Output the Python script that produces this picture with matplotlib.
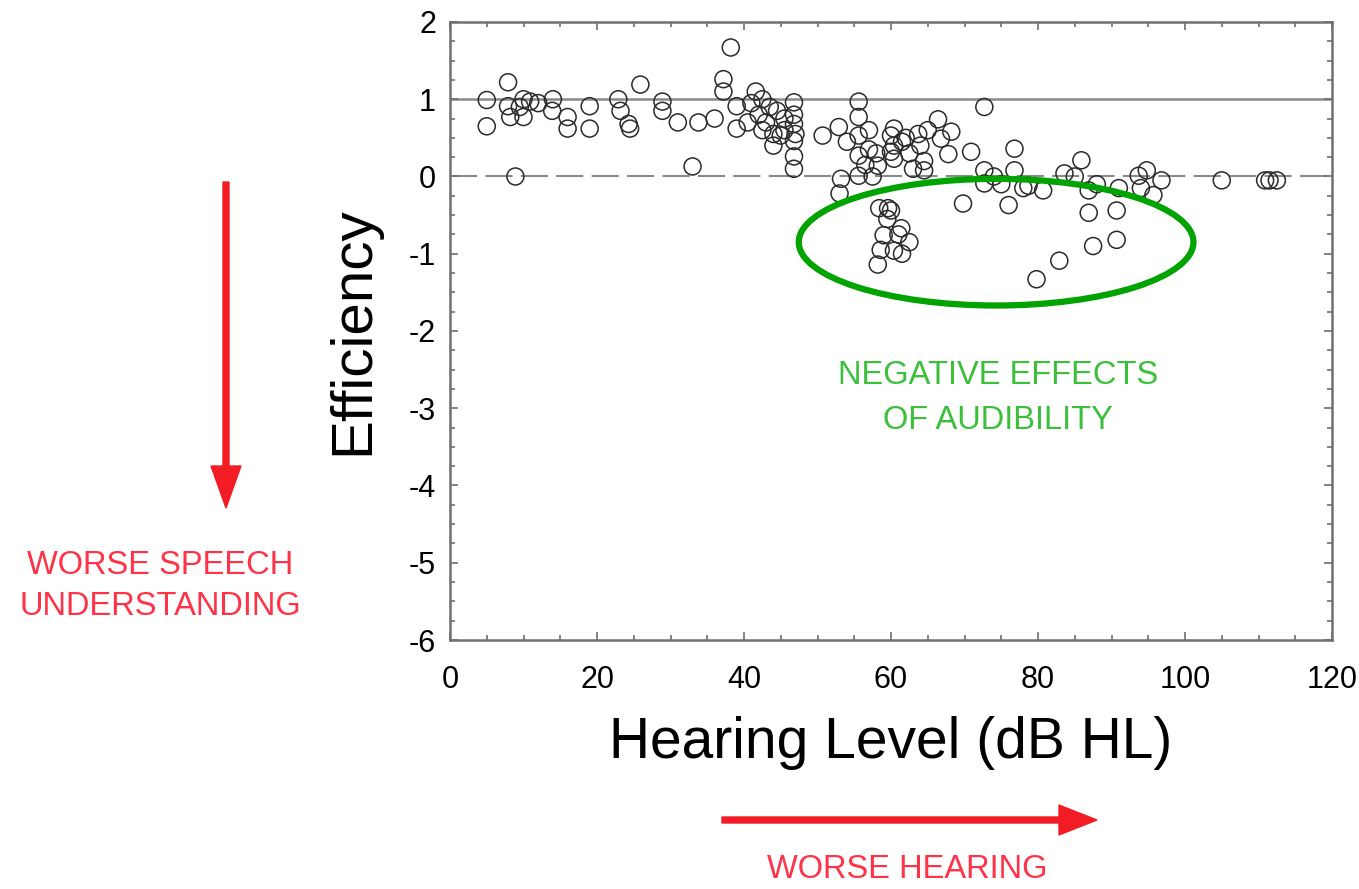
import matplotlib
matplotlib.use("Agg")
import matplotlib.pyplot as plt
from matplotlib.patches import Ellipse, FancyArrow
from matplotlib.transforms import IdentityTransform
from matplotlib.ticker import MultipleLocator

plt.rcParams["axes.unicode_minus"] = False

# ---- data ----
hearing_level = [
    5, 5, 7.9, 7.9, 8.9, 10, 8.2, 10, 10.9, 14, 13.9, 16, 16, 19, 19, 9.5, 12,
    22.9, 23.2, 24.3, 24.5, 25.9, 28.9, 28.9, 31, 33.8, 33, 37.2, 37.2, 38.2, 39, 39, 36,
    41.6, 41, 42, 43, 44, 44, 45, 43.5, 45.5, 46.8, 46.8, 46.8, 46.8, 46.8, 46.8, 40.5, 42.5,
    42.5, 44.5, 45.5, 47,
    50.7, 52.9, 53.2, 53, 55.6, 55.6, 55.6, 55.6, 55.6, 54, 57, 58.2, 57.5, 58.4, 60, 59,
    58.6, 58.2, 60, 60, 59.6, 61.4, 60.4, 60.4, 60.4, 60.4, 57,
    56.5, 58, 61.5, 62.5, 63, 59.5, 61.5,
    62, 63.7, 64, 64.5, 64.5, 62.5, 61, 66.4, 68.2, 66.8, 67.8, 65, 70.9, 72.7, 72.7, 72.7,
    69.8, 76.8, 76.8, 76, 78, 78.7, 74, 75,
    79.8, 80.7, 82.9, 83.6, 85.9, 86.9, 86.9, 87.5, 90.7, 90.7, 91, 93.7, 94.8, 96.8, 94,
    95.7, 105, 110.9, 111.5, 112.5, 85, 88,
]
efficiency = [
    0.99, 0.65, 1.22, 0.91, 0.0, 1.0, 0.77, 0.77, 0.97, 1.0, 0.85, 0.77, 0.62, 0.91, 0.62, 0.9, 0.95,
    1.0, 0.85, 0.68, 0.62, 1.19, 0.97, 0.85, 0.7, 0.7, 0.13, 1.26, 1.1, 1.67, 0.91, 0.62, 0.75,
    1.1, 0.95, 0.8, 0.7, 0.55, 0.4, 0.53, 0.9, 0.75, 0.96, 0.8, 0.68, 0.46, 0.26, 0.1, 0.7, 0.6,
    1.0, 0.85, 0.6, 0.55,
    0.53, 0.64, -0.03, -0.22, 0.97, 0.77, 0.53, 0.27, 0.01, 0.45, 0.35, 0.14, 0.0, -0.41, -0.44, -0.76,
    -0.95, -1.14, 0.53, 0.32, -0.41, -0.67, -0.96, 0.62, 0.4, 0.23, 0.6,
    0.15, 0.3, 0.45, 0.3, 0.1, -0.55, -1.0,
    0.5, 0.55, 0.4, 0.2, 0.08, -0.85, -0.75, 0.74, 0.58, 0.49, 0.29, 0.6, 0.32, 0.9, 0.08, -0.09,
    -0.35, 0.36, 0.08, -0.37, -0.15, -0.12, 0.0, -0.1,
    -1.33, -0.18, -1.09, 0.04, 0.21, -0.18, -0.47, -0.9, -0.44, -0.82, -0.15, 0.01, 0.08, -0.05, -0.15,
    -0.24, -0.05, -0.05, -0.05, -0.05, 0.0, -0.1,
]
x_ticks = [0, 20, 40, 60, 80, 100, 120]
y_ticks = [2, 1, 0, -1, -2, -3, -4, -5, -6]
ref_solid = 1
ref_dashed = 0

# highlighted region (data coords)
ellipse_center = (74.3, -0.85)
ellipse_width = 53.7
ellipse_height = 1.64

W, H = 1359, 889
fig = plt.figure(figsize=(W / 100, H / 100), dpi=100)
ax = fig.add_axes([450 / W, 1 - 640 / H, 882 / W, 618 / H])

spine_col = "#707070"
ax.axhline(ref_solid, color="#8a8a8a", lw=1.8, zorder=1)
ax.axhline(ref_dashed, color="#8a8a8a", lw=1.5, dashes=(13, 4), zorder=1)

ax.scatter(hearing_level, efficiency, s=150, facecolors="none",
           edgecolors="#2a2a2a", linewidths=1.1, zorder=3)

ax.set_xlim(0, 120)
ax.set_ylim(-6, 2)
ax.set_xticks(x_ticks)
ax.set_yticks(y_ticks)
ax.xaxis.set_minor_locator(MultipleLocator(5))
ax.yaxis.set_minor_locator(MultipleLocator(0.25))
for s in ax.spines.values():
    s.set_color(spine_col)
    s.set_linewidth(1.8)
ax.tick_params(which="both", direction="in", top=True, right=True,
               color=spine_col, width=1.2)
ax.tick_params(which="major", length=6, labelsize=22)
ax.tick_params(which="minor", length=3.5)
ax.tick_params(axis="x", which="major", pad=18)
ax.tick_params(axis="y", which="major", pad=10)
for lab in ax.get_xticklabels() + ax.get_yticklabels():
    lab.set_family("Liberation Sans")

ax.set_xlabel("Hearing Level (dB HL)", fontsize=41, family="Liberation Sans")
ax.xaxis.set_label_coords(0.5, -0.123)
ax.set_ylabel("Efficiency", fontsize=42, family="Liberation Sans")
ax.yaxis.set_label_coords(-0.079, 0.5)

green = "#00a300"
ax.add_patch(Ellipse(ellipse_center, ellipse_width, ellipse_height,
                     fill=False, edgecolor=green, lw=4.5, zorder=4, clip_on=False))

txt_font = "Liberation Sans"
fig.text(998 / W, 1 - 398 / H, "NEGATIVE EFFECTS\nOF AUDIBILITY", color="#3cc03c",
         fontsize=23.5, family=txt_font, ha="center", va="center", linespacing=1.6)

red_txt = "#ff3347"
fig.text(160 / W, 1 - 586 / H, "WORSE SPEECH\nUNDERSTANDING", color=red_txt,
         fontsize=23.5, family=txt_font, ha="center", va="center", linespacing=1.45)
fig.text(907 / W, 1 - 870 / H, "WORSE HEARING", color=red_txt,
         fontsize=23.5, family=txt_font, ha="center", va="center")

red = "#f21c24"
# arrows drawn in display pixels (origin bottom-left)
fig.add_artist(FancyArrow(226, H - 182, 0, -(508 - 182), width=6, head_width=30,
                          head_length=42, length_includes_head=True,
                          color=red, transform=IdentityTransform()))
fig.add_artist(FancyArrow(722, H - 820, 1097 - 722, 0, width=6, head_width=30,
                          head_length=38, length_includes_head=True,
                          color=red, transform=IdentityTransform()))

fig.savefig("out.png", dpi=100)
